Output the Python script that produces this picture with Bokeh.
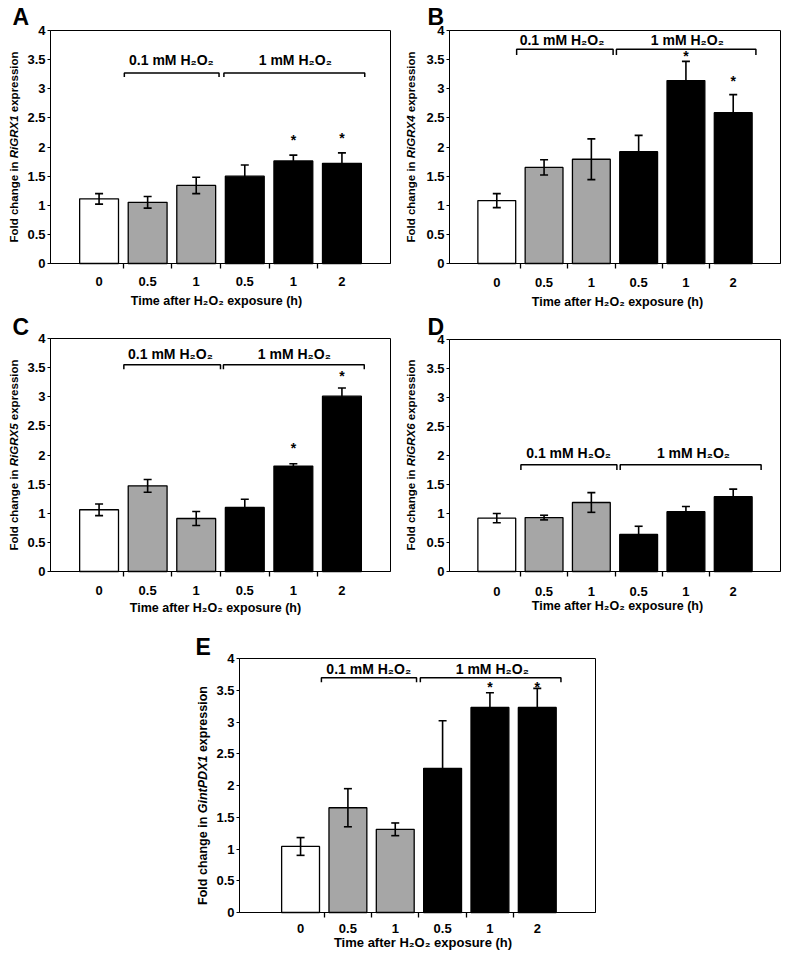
import math
from bokeh.plotting import figure
from bokeh.models import FixedTicker, Range1d, ColumnDataSource
from bokeh.layouts import column, row
from bokeh.embed import file_html
from bokeh.resources import INLINE
from bokeh.core.properties import value

FONT = "Liberation Sans"

# ---------------- data ----------------
time_labels = ["0", "0.5", "1", "0.5", "1", "2"]
bar_colors = ["white", "#a6a6a6", "#a6a6a6", "black", "black", "black"]
group_labels = ["0.1 mM H\u2082O\u2082", "1 mM H\u2082O\u2082"]
y_ticks = [0, 0.5, 1, 1.5, 2, 2.5, 3, 3.5, 4]
y_tick_labels = ["0", "0.5", "1", "1.5", "2", "2.5", "3", "3.5", "4"]
x_title = "Time after H\u2082O\u2082 exposure (h)"

a_gene = "RiGRX1"
a_mean = [1.11, 1.05, 1.34, 1.50, 1.76, 1.72]
a_err = [0.09, 0.10, 0.14, 0.19, 0.10, 0.18]
a_sig = [False, False, False, False, True, True]

b_gene = "RiGRX4"
b_mean = [1.08, 1.65, 1.79, 1.92, 3.14, 2.59]
b_err = [0.12, 0.13, 0.35, 0.28, 0.33, 0.31]
b_sig = [False, False, False, False, True, True]

c_gene = "RiGRX5"
c_mean = [1.06, 1.47, 0.91, 1.10, 1.81, 3.01]
c_err = [0.10, 0.11, 0.12, 0.14, 0.04, 0.14]
c_sig = [False, False, False, False, True, True]

d_gene = "RiGRX6"
d_mean = [0.92, 0.93, 1.19, 0.64, 1.03, 1.29]
d_err = [0.08, 0.04, 0.17, 0.14, 0.09, 0.13]
d_sig = [False, False, False, False, False, False]

e_gene = "GintPDX1"
e_mean = [1.04, 1.65, 1.31, 2.27, 3.23, 3.23]
e_err = [0.14, 0.30, 0.10, 0.75, 0.23, 0.30]
e_sig = [False, False, False, False, True, True]

# ---------------- style / layout ----------------
AW = {' ': 278, '\u00a0': 278, 'F': 611, 'o': 611, 'l': 278, 'd': 611, 'c': 556,
      'h': 611, 'a': 556, 'n': 611, 'g': 611, 'e': 556, 'i': 278, 'R': 722, 'G': 778,
      'X': 667, 'P': 667, 'D': 722, 't': 333, 'x': 556, 'p': 611, 'r': 389, 's': 556,
      '1': 556, '4': 556, '5': 556, '6': 556}


def tw(s, size):
    return sum(AW.get(ch, 556) for ch in s) / 1000.0 * size


def make_panel(letter, gene, mean, err, sig, cfg):
    W, H = cfg["size"]
    bl, br, bt, bb = cfg["box"]          # plot box in canvas px: left, right, top, bottom
    x0, x1 = cfg["xr"]
    pxx = (br - bl) / (x1 - x0)
    pxy = (bb - bt) / 4.0

    def dx(px):
        return x0 + px / pxx

    def dy(px):
        return px / pxy

    p = figure(width=W, height=H,
               x_range=Range1d(x0 - bl / pxx, x1 + (W - br) / pxx),
               y_range=Range1d(-(H - bb) / pxy, 4 + bt / pxy),
               output_backend="svg", toolbar_location=None,
               min_border_left=0, min_border_right=0,
               min_border_top=0, min_border_bottom=0)
    p.background_fill_color = "white"
    p.border_fill_color = "white"
    p.outline_line_color = None
    p.grid.visible = False

    xs = [1, 2, 3, 4, 5, 6]
    xa = p.xaxis[0]
    xa.fixed_location = 0
    xa.bounds = (x0, x1)
    xa.ticker = FixedTicker(ticks=xs, minor_ticks=[1.5, 2.5, 3.5, 4.5, 5.5])
    xa.major_label_overrides = {x: t for x, t in zip(xs, time_labels)}
    xa.major_tick_line_color = None
    xa.major_tick_out = 0
    xa.major_tick_in = 0
    xa.minor_tick_out = 5
    xa.minor_tick_in = 0
    xa.minor_tick_line_color = "black"
    xa.minor_tick_line_width = 1.3
    xa.major_label_standoff = cfg["xstand"]

    ya = p.yaxis[0]
    ya.fixed_location = x0
    ya.bounds = (0, 4)
    ya.ticker = FixedTicker(ticks=y_ticks)
    ya.major_label_overrides = {t: s for t, s in zip(y_ticks, y_tick_labels)}
    ya.major_tick_out = 3
    ya.major_tick_in = 0
    ya.major_tick_line_color = "black"
    ya.minor_tick_line_color = None
    ya.major_label_standoff = 2
    for ax in (xa, ya):
        ax.axis_line_color = "black"
        ax.axis_line_width = 1
        ax.major_label_text_font = FONT
        ax.major_label_text_font_style = "bold"
        ax.major_label_text_font_size = "13px"
        ax.major_label_text_color = "black"

    # plot box (top and right edges of the chart area)
    p.quad(left=[x0], right=[x1], bottom=[0], top=[4], fill_color=None,
           line_color="black", line_width=1)

    src = ColumnDataSource(dict(x=xs, top=mean, color=bar_colors,
                                lo=[m - e for m, e in zip(mean, err)],
                                hi=[m + e for m, e in zip(mean, err)]))
    p.vbar(x="x", top="top", bottom=0, width=0.8, fill_color="color",
           line_color="black", line_width=1.3, source=src)
    cw = 4.0 / pxx
    p.segment(x0="x", y0="lo", x1="x", y1="hi", line_color="black", line_width=1.6, source=src)
    p.segment(x0=[x - cw for x in xs], y0=src.data["hi"], x1=[x + cw for x in xs],
              y1=src.data["hi"], line_color="black", line_width=1.6)
    p.segment(x0=[x - cw for x in xs], y0=src.data["lo"], x1=[x + cw for x in xs],
              y1=src.data["lo"], line_color="black", line_width=1.6)

    # group brackets
    yb, dd = cfg["br_y"], cfg["br_d"]
    bxs = [[a, a, b, b] for a, b in cfg["br_x"]]
    bys = [[yb - dd, yb, yb, yb - dd] for _ in cfg["br_x"]]
    p.multi_line(xs=bxs, ys=bys, line_color="black", line_width=1.5)
    p.text(x=cfg["lab_x"], y=[cfg["lab_y"]] * 2, text=group_labels,
           text_font=value(FONT), text_font_style="bold", text_font_size="14px",
           text_color="black", text_align="center", text_baseline="middle")

    # significance stars
    sx = [x for x, s in zip(xs, sig) if s]
    sy = [y for y, s in zip(cfg["star_y"], sig) if s]
    if sx:
        p.text(x=sx, y=sy, text=["*"] * len(sx), text_font=value(FONT),
               text_font_style="bold", text_font_size="14px", text_color="black",
               text_align="center", text_baseline="middle", y_offset=1)

    # panel letter
    p.text(x=[dx(cfg["letter"][0])], y=[dy(cfg["letter"][1])], text=[letter],
           text_font=value(FONT), text_font_style="bold", text_font_size="23px",
           text_color="black", text_align="left", text_baseline="middle")

    # y axis title (gene name in italics)
    fs = cfg["ylab_fs"]
    parts = [("Fold change in", "bold"), ("\u00a0" + gene, "bold italic"),
             ("\u00a0expression", "bold")]
    total = sum(tw(s, fs) for s, _ in parts)
    ypos = cfg["ylab_c"] - total / 2.0
    for s, style in parts:
        p.text(x=[dx(cfg["ylab_x"])], y=[dy(ypos)], text=[s], angle=math.pi / 2,
               text_font=value(FONT), text_font_style=style, text_font_size=f"{fs}px",
               text_color="black", text_align="left", text_baseline="middle")
        ypos += tw(s, fs)

    # x axis title
    p.text(x=[dx(cfg["xlab"][0])], y=[dy(cfg["xlab"][1])], text=[x_title],
           text_font=value(FONT), text_font_style="bold", text_font_size=cfg["xlab_fs"],
           text_color="black", text_align="center", text_baseline="middle")
    return p


cfg_a = dict(size=(394, 312), box=(50, 390, 30, 263), xr=(0, 7), xstand=8,
             br_y=3.27, br_d=0.07, br_x=[(1.52, 3.47), (3.57, 6.47)], lab_x=[2.49, 5.04],
             lab_y=3.5, star_y=[0, 0, 0, 0, 2.13, 2.17], letter=(-38, 246.5),
             ylab_fs=11.5, ylab_c=116.5, ylab_x=-36.5, xlab=(166, -37), xlab_fs="12.5px")
cfg_b = dict(size=(393, 312), box=(55, 386, 30, 263), xr=(0, 7), xstand=9,
             br_y=3.68, br_d=0.1, br_x=[(1.42, 3.46), (3.53, 6.48)], lab_x=[2.38, 5.03],
             lab_y=3.84, star_y=[0, 0, 0, 0, 3.58, 3.15], letter=(-22, 246.5),
             ylab_fs=11.5, ylab_c=116.5, ylab_x=-38.5, xlab=(168, -38), xlab_fs="12.5px")
cfg_c = dict(size=(394, 318), box=(50, 390, 26, 259), xr=(0, 7), xstand=9,
             br_y=3.55, br_d=0.08, br_x=[(1.51, 3.5), (3.56, 6.46)], lab_x=[2.47, 5.02],
             lab_y=3.73, star_y=[0, 0, 0, 0, 2.14, 3.37], letter=(-38, 244.5),
             ylab_fs=11.5, ylab_c=116.5, ylab_x=-37, xlab=(165, -36), xlab_fs="12.5px")
cfg_d = dict(size=(393, 318), box=(55, 386, 27, 259), xr=(0, 7), xstand=10,
             br_y=1.84, br_d=0.09, br_x=[(1.51, 3.54), (3.61, 6.59)], lab_x=[2.52, 5.16],
             lab_y=2.05, star_y=[0, 0, 0, 0, 0, 0], letter=(-22, 244.5),
             ylab_fs=11.5, ylab_c=116.5, ylab_x=-38.5, xlab=(168, -34.5), xlab_fs="12.5px")
cfg_e = dict(size=(620, 325), box=(239, 595, 28, 282), xr=(-0.29, 7.23), xstand=6,
             br_y=3.695, br_d=0.07, br_x=[(1.44, 3.45), (3.53, 6.5)], lab_x=[2.44, 5.05],
             lab_y=3.84, star_y=[0, 0, 0, 0, 3.57, 3.57], letter=(-44, 266),
             ylab_fs=12.5, ylab_c=117, ylab_x=-36.5, xlab=(183.5, -30), xlab_fs="13px")

pA = make_panel("A", a_gene, a_mean, a_err, a_sig, cfg_a)
pB = make_panel("B", b_gene, b_mean, b_err, b_sig, cfg_b)
pC = make_panel("C", c_gene, c_mean, c_err, c_sig, cfg_c)
pD = make_panel("D", d_gene, d_mean, d_err, d_sig, cfg_d)
pE = make_panel("E", e_gene, e_mean, e_err, e_sig, cfg_e)

layout = column(row(pA, pB), row(pC, pD), pE)
open("out.html", "w").write(file_html(layout, INLINE))
